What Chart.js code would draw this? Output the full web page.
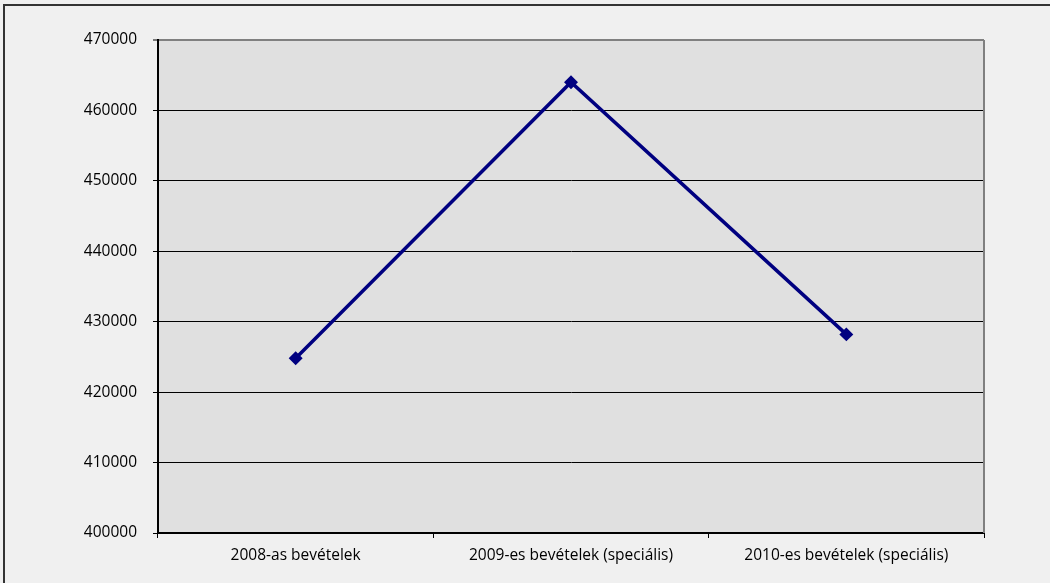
<!DOCTYPE html>
<html>
<head>
<meta charset="utf-8">
<script src="https://cdn.jsdelivr.net/npm/chart.js@4.4.1/dist/chart.umd.min.js"></script>
<style>
  html, body { margin: 0; padding: 0; background: #f0f0f0; }
  #wrap { width: 1050px; height: 583px; }
</style>
</head>
<body>
<div id="wrap"><canvas id="revenueChart" width="1050" height="583"></canvas></div>
<script>
const categories = ['2008-as bevételek', '2009-es bevételek (speciális)', '2010-es bevételek (speciális)'];
const revenues = [424800, 464000, 428200];
const yMin = 400000;
const yMax = 470000;
const yStep = 10000;

// grey plot area, outer frame and right border of the plot
const backdrop = {
  id: 'backdrop',
  beforeDraw(chart) {
    const ctx = chart.ctx;
    const a = chart.chartArea;
    ctx.save();
    ctx.fillStyle = '#f0f0f0';
    ctx.fillRect(0, 0, chart.width, chart.height);
    ctx.strokeStyle = '#333333';
    ctx.lineWidth = 2;
    ctx.strokeRect(4, 5, chart.width + 20, chart.height + 20);
    ctx.fillStyle = '#e0e0e0';
    ctx.fillRect(a.left, a.top, a.right - a.left, a.bottom - a.top);
    ctx.restore();
  },
  beforeDatasetsDraw(chart) {
    const ctx = chart.ctx;
    const a = chart.chartArea;
    ctx.save();
    ctx.strokeStyle = '#808080';
    ctx.lineWidth = 2;
    ctx.beginPath();
    ctx.moveTo(a.right, a.top);
    ctx.lineTo(a.right, a.bottom);
    ctx.stroke();
    ctx.restore();
  }
};

Chart.defaults.font.family = '"Open Sans", sans-serif';
Chart.defaults.font.size = 15.5;
Chart.defaults.color = '#000';

const ctx = document.getElementById('revenueChart').getContext('2d');
new Chart(ctx, {
  type: 'line',
  data: {
    labels: categories,
    datasets: [{
      data: revenues,
      borderColor: '#000080',
      backgroundColor: '#000080',
      borderWidth: 3.5,
      tension: 0,
      fill: false,
      pointStyle: 'rectRot',
      pointRadius: 4.5,
      pointBackgroundColor: '#000080',
      pointBorderColor: '#000080'
    }]
  },
  options: {
    responsive: false,
    animation: false,
    layout: { padding: { top: 40, right: 66, left: 0, bottom: 0 } },
    plugins: {
      legend: { display: false },
      tooltip: { enabled: false }
    },
    scales: {
      x: {
        offset: true,
        afterFit: scale => { scale.height = 50; },
        grid: {
          offset: true,
          drawOnChartArea: false,
          drawTicks: true,
          tickLength: 5,
          tickColor: '#000',
          tickWidth: 1
        },
        border: { color: '#000', width: 2 },
        ticks: { padding: 8, color: '#000', maxRotation: 0 }
      },
      y: {
        min: yMin,
        max: yMax,
        afterFit: scale => { scale.width = 158; },
        grid: {
          color: c => (c.tick && c.tick.value === yMax) ? '#808080' : '#000',
          lineWidth: c => (c.tick && c.tick.value === yMax) ? 2 : 1,
          tickLength: 5,
          tickColor: '#000',
          tickWidth: 1
        },
        border: { color: '#000', width: 2 },
        ticks: { stepSize: yStep, padding: 16, color: '#000', callback: v => String(v) }
      }
    }
  },
  plugins: [backdrop]
});
</script>
</body>
</html>
